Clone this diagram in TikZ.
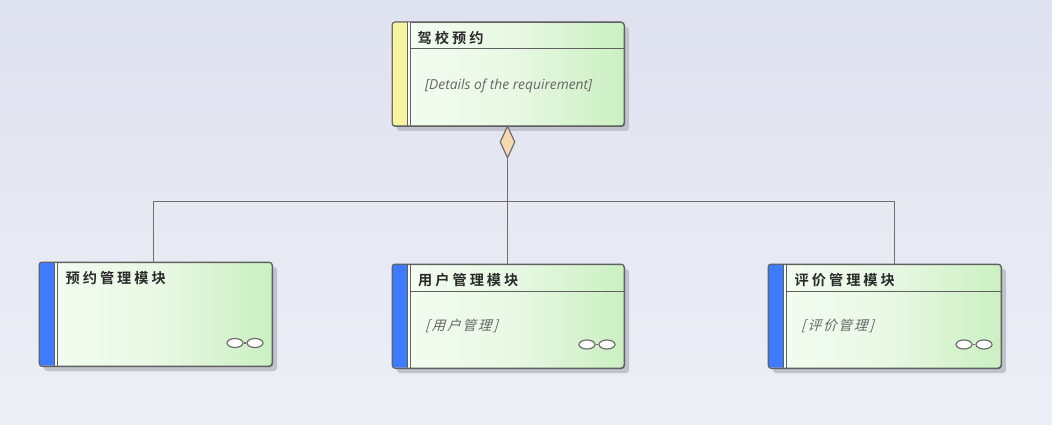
\documentclass[tikz,border=0pt]{standalone}
\usepackage{fontspec}
\usetikzlibrary{shapes.geometric,calc}
\setmainfont{Open Sans}
\newfontfamily\cjkb[LetterSpace=21]{Noto Sans CJK SC Bold}
\newfontfamily\cjki[FakeSlant=0.3,LetterSpace=14]{Noto Sans CJK SC}
\definecolor{bgtop}{HTML}{DFE2EF}
\definecolor{bgbot}{HTML}{EDEFF6}
\definecolor{edge}{HTML}{606060}
\definecolor{conn}{HTML}{6E6E6E}
\definecolor{shadowc}{HTML}{C0C2CC}
\definecolor{gleft}{HTML}{F4FDF1}
\definecolor{gmid}{HTML}{E9F8E5}
\definecolor{gright}{HTML}{CBF0C1}
\definecolor{reqy}{HTML}{F7F4A0}
\definecolor{modb}{HTML}{3F7BFF}
\definecolor{diamf}{HTML}{F7D9B0}
\definecolor{txt}{HTML}{2A2A2A}
\definecolor{note}{HTML}{666666}
\tikzset{
  x=1pt,y=-1pt,
  reqbox/.style={rectangle,draw=edge,line width=1pt,rounded corners=3pt,minimum width=232pt,minimum height=104pt,inner sep=0pt,anchor=north west,left color=gleft,right color=gright,middle color=gmid},
  sideline/.style={draw=edge,line width=1pt},
  title/.style={anchor=west,inner sep=0pt,text=txt,font=\cjkb\fontsize{14.2}{14}\selectfont},
  detail/.style={anchor=west,inner sep=0pt,text=note},
  conline/.style={draw=conn,line width=1.3pt},
  aggr/.style={diamond,draw=conn,fill=diamf,line width=1.2pt,inner sep=0pt,minimum width=15pt,minimum height=32pt,aspect=0.47},
  ring/.style={ellipse,draw=conn,fill=white,line width=1.2pt,inner sep=0pt,minimum width=16pt,minimum height=9pt},
}
% #1 name, #2 left x, #3 top y, #4 stripe colour, #5 width
\newcommand{\reqblock}[5]{%
  \fill[shadowc,rounded corners=3pt] (#2+5,#3+5) rectangle ++(#5,104);
  \node[reqbox,minimum width=#5pt] (#1) at (#2,#3) {};
  \begin{scope}
    \clip (#2,#3) rectangle (#2+15,#3+104);
    \fill[#4,rounded corners=3pt] (#2+.5,#3+.5) rectangle (#2+25,#3+103.5);
  \end{scope}
  \fill[white!85!gleft] (#2+15,#3+.5) rectangle (#2+18.5,#3+103.5);
  \draw[sideline] (#2+15,#3) -- (#2+15,#3+104);
  \draw[sideline] (#2+18.5,#3) -- (#2+18.5,#3+104);
  \draw[edge,line width=1pt,rounded corners=3pt] (#2,#3) rectangle ++(#5,104);
}
\begin{document}
\begin{tikzpicture}
\useasboundingbox (0,0) rectangle (1052,425);
\shade[top color=bgtop,bottom color=bgbot] (0,0) rectangle (1052,425);

\reqblock{req}{392}{22}{reqy}{232}
\draw[sideline] (410,49) -- (624,49);
\node[title] (t0) at (417.5,38) {驾校预约};
\node[detail] (d0) at (425,85.5) {\fontsize{13.8}{14}\selectfont\itshape [Details of the requirement]};

\reqblock{ma}{39}{262}{modb}{233}
\node[title] (t1) at (65.5,278.5) {预约管理模块};

\reqblock{mb}{392}{264}{modb}{232}
\draw[sideline] (410,291) -- (624,291);
\node[title] (t2) at (418,280) {用户管理模块};
\node[detail] (d2) at (425,326) {\cjki\fontsize{13.5}{14}\selectfont [用户管理]};

\reqblock{mc}{768}{264}{modb}{233}
\draw[sideline] (786,291) -- (1001,291);
\node[title] (t3) at (794.5,280) {评价管理模块};
\node[detail] (d3) at (801,326) {\cjki\fontsize{13.5}{14}\selectfont [评价管理]};

% composite-element marks
\foreach \n/\x/\y in {a/235/343,b/587/344.5,c/964/344.5}{
  \node[ring] (r\n l) at (\x,\y) {};
  \node[ring] (r\n r) at (\x+20,\y) {};
  \draw[conline] (r\n l) -- (r\n r);
}

% connectors
\node[aggr] (dia) at (507.5,142) {};
\coordinate (ja) at (153.5,262);
\coordinate (jb) at (507.5,264);
\coordinate (jc) at (894.5,264);
\coordinate (bus) at (507.5,201.5);
\draw[conline] (dia.south) -- (bus);
\draw[conline] (ja) |- (bus);
\draw[conline] (jc) |- (bus);
\draw[conline] (bus -| jb) -- (jb);
\end{tikzpicture}
\end{document}
